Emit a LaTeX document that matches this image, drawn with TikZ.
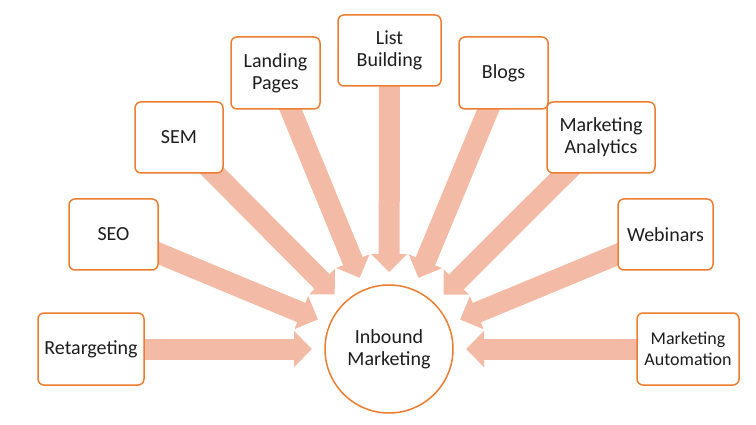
\documentclass[tikz,border=0pt]{standalone}
\usepackage{fontspec}
\setmainfont{Carlito}
\usetikzlibrary{arrows.meta,calc,backgrounds}
\definecolor{boxor}{HTML}{ED7D31}
\definecolor{arr}{HTML}{F3BBA5}
\definecolor{txt}{HTML}{1E1E1E}
\begin{document}
\begin{tikzpicture}[x=1pt,y=-1pt,
  box/.style={draw=boxor, line width=1.5pt, rounded corners=6pt, fill=white,
    align=center, text=txt, font=\fontsize{20}{22}\selectfont, inner sep=0pt},
  bigarrow/.style={draw=arr, line width=21pt, line cap=butt,
    -{Triangle[length=18pt,width=35pt]}},
]
\useasboundingbox (0,0) rectangle (756,425);
\node[box, minimum width=106pt, minimum height=72pt] (ret) at (91,349) {Retargeting};
\node[box, minimum width=89pt, minimum height=71pt] (seo) at (113.5,234.5) {SEO};
\node[box, minimum width=88pt, minimum height=71pt] (sem) at (179,137.5) {SEM};
\node[box, minimum width=89pt, minimum height=72pt] (lp) at (275.5,73) {Landing\\Pages};
\node[box, minimum width=103pt, minimum height=71pt] (lb) at (389.5,50.5) {List\\Building};
\node[box, minimum width=89pt, minimum height=72pt] (blog) at (503.5,73) {Blogs};
\node[box, minimum width=108pt, minimum height=71pt] (ma) at (601,137.5) {Marketing\\Analytics};
\node[box, minimum width=95pt, minimum height=71pt] (web) at (665.5,234.5) {Webinars};
\node[box, minimum width=102pt, minimum height=72pt, font=\fontsize{18}{21}\selectfont] (mau) at (688,349) {Marketing\\Automation};
\node[circle, draw=boxor, line width=1.5pt, fill=white, minimum size=128pt, inner sep=0pt,
  align=center, text=txt, font=\fontsize{20}{22}\selectfont] (im) at (389,349) {Inbound\\Marketing};
\begin{scope}[on background layer]
\foreach \n in {ret,seo,sem,lp,lb,blog,ma,web,mau}{
  \coordinate (t-\n) at ($(im.center)!77pt!(\n.center)$);
  \draw[bigarrow] (\n.center) -- (t-\n);
}
\end{scope}
\end{tikzpicture}
\end{document}
